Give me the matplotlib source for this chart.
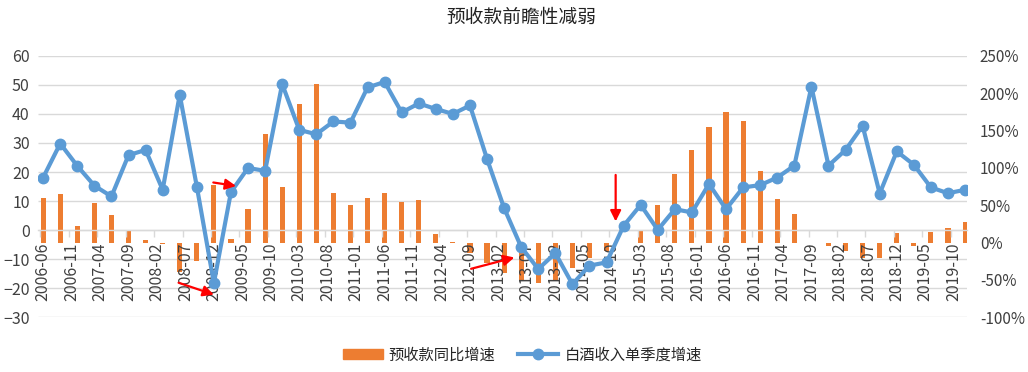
import matplotlib
matplotlib.use('Agg')
import matplotlib.pyplot as plt
import matplotlib.transforms as mtransforms
from matplotlib.patches import Patch
from matplotlib.lines import Line2D
import numpy as np
import pandas as pd

plt.rcParams['font.family'] = ['Noto Sans CJK SC', 'DejaVu Sans']

# quarterly points, 2006-06 .. 2019-12
quarters = pd.period_range('2006-06', '2019-12', freq='M')[::3]

# 白酒收入单季度增速 (left axis)
liquor_growth = [18.1, 29.8, 22.1,
                 15.3, 11.6, 25.8, 27.6,
                 13.9, 46.6, 15.0, -18.2,
                 13.1, 21.4, 20.4, 50.3,
                 34.5, 33.0, 37.4, 37.0,
                 49.1, 51.0, 40.5, 43.6,
                 41.7, 40.0, 42.9, 24.5,
                 7.6, -5.8, -13.4, -7.9,
                 -18.6, -12.2, -11.1, 1.5,
                 8.7, 0.1, 7.2, 6.1,
                 15.9, 7.2, 14.7, 15.5,
                 18.1, 22.2, 49.4, 22.2,
                 27.6, 35.9, 12.6, 27.1,
                 22.5, 14.7, 12.7, 13.9]

# 预收款同比增速 (right axis, %)
prepay_growth = [59.7, 65.0, 22.2,
                 53.0, 36.9, 16.0, 3.5,
                 -1.5, -40.0, -25.0, 77.0,
                 5.0, 45.0, 145.3, 74.9,
                 185.9, 212.6, 66.4, 50.8,
                 59.7, 66.4, 54.3, 57.0,
                 11.5, 1.2, -14.0, -27.7,
                 -41.0, -50.0, -54.5, -51.0,
                 -34.0, -21.0, -11.0, -1.0,
                 16.0, 50.8, 91.8, 124.3,
                 155.1, 175.2, 162.7, 95.8,
                 58.3, 38.7, 0.0, -4.1,
                 -10.7, -20.2, -20.2, 13.5,
                 -4.0, 14.6, 20.0, 28.0]

tick_labels = ['2006-06', '2006-11', '2007-04', '2007-09', '2008-02', '2008-07',
               '2008-12', '2009-05', '2009-10', '2010-03', '2010-08', '2011-01',
               '2011-06', '2011-11', '2012-04', '2012-09', '2013-02', '2013-07',
               '2013-12', '2014-05', '2014-10', '2015-03', '2015-08', '2016-01',
               '2016-06', '2016-11', '2017-04', '2017-09', '2018-02', '2018-07',
               '2018-12', '2019-05', '2019-10']

ORANGE = '#ED7D31'
BLUE = '#5B9BD5'
GRID = '#D9D9D9'
TXT = '#404040'

# month offsets from 2006-06 (date axis, base unit = month)
x = np.array([(p.year - 2006) * 12 + p.month - 6 for p in quarters])
tick_pos = np.arange(len(tick_labels)) * 5

fig = plt.figure(figsize=(10.28, 3.72), dpi=100)
ax = fig.add_axes([0.037, 0.147, 0.904, 0.703])
ax2 = ax.twinx()
ax.set_zorder(ax2.get_zorder() + 1)
ax.patch.set_visible(False)

ax.set_xlim(-0.9, 162.4)
ax.set_ylim(-30, 60)
ax2.set_ylim(-100, 250)

# gridlines follow the left axis but sit behind the bars
trans = mtransforms.blended_transform_factory(ax2.transAxes, ax.transData)
ax2.hlines(np.arange(-30, 61, 10), 0, 1, transform=trans, color=GRID, lw=1, zorder=0)

ax2.bar(x, prepay_growth, width=0.9, color=ORANGE, zorder=2)
ax.plot(x, liquor_growth, color=BLUE, lw=3, marker='o', ms=7.5, zorder=3)

# category axis crosses at 0 on the left axis
for s in ['top', 'right', 'left']:
    ax.spines[s].set_visible(False)
for s in ax2.spines.values():
    s.set_visible(False)
ax.spines['bottom'].set_position(('data', 0))
ax.spines['bottom'].set_color(GRID)
ax.spines['bottom'].set_linewidth(1)

ax.set_xticks(tick_pos - 0.5)
ax.set_xticklabels([])
ax.tick_params(axis='x', which='major', length=5, color=GRID, width=1)
ax.set_xticks(tick_pos, minor=True)
ax.set_xticklabels(tick_labels, minor=True, rotation=90, ha='center', va='top')
ax.tick_params(axis='x', which='minor', length=0, pad=9, labelsize=11.5, labelcolor=TXT)

ax.set_yticks(np.arange(-30, 61, 10))
ax.tick_params(axis='y', length=0, pad=6, labelsize=11.5, labelcolor=TXT)
ax2.set_yticks(np.arange(-100, 251, 50))
ax2.set_yticklabels([f'{v}%' for v in range(-100, 251, 50)])
ax2.tick_params(axis='y', length=0, pad=9, labelsize=11, labelcolor=TXT)

# red arrows
arrows = [((23.8, -18.1), (30.0, -22.2)),
          ((29.9, 16.4), (33.9, 15.2)),
          ((75.2, -13.3), (82.8, -9.4)),
          ((100.6, 19.0), (100.6, 3.0))]
for start, end in arrows:
    ax.annotate('', xy=end, xytext=start,
                arrowprops=dict(arrowstyle='-|>', color='red', lw=1.6,
                                mutation_scale=16, shrinkA=0, shrinkB=0),
                zorder=5)

fig.text(0.507, 0.953, '预收款前瞻性减弱', ha='center', va='center',
         fontsize=13.5, color='#222222')

handles = [Patch(color=ORANGE),
           Line2D([], [], color=BLUE, lw=3, marker='o', ms=7.5)]
fig.legend(handles, ['预收款同比增速', '白酒收入单季度增速'], loc='center',
           bbox_to_anchor=(0.508, 0.046), ncol=2, frameon=False, fontsize=11,
           handlelength=2.6, handleheight=0.7, columnspacing=1.5,
           handletextpad=0.4, labelcolor='#262626')

fig.savefig('out.png', dpi=100)
